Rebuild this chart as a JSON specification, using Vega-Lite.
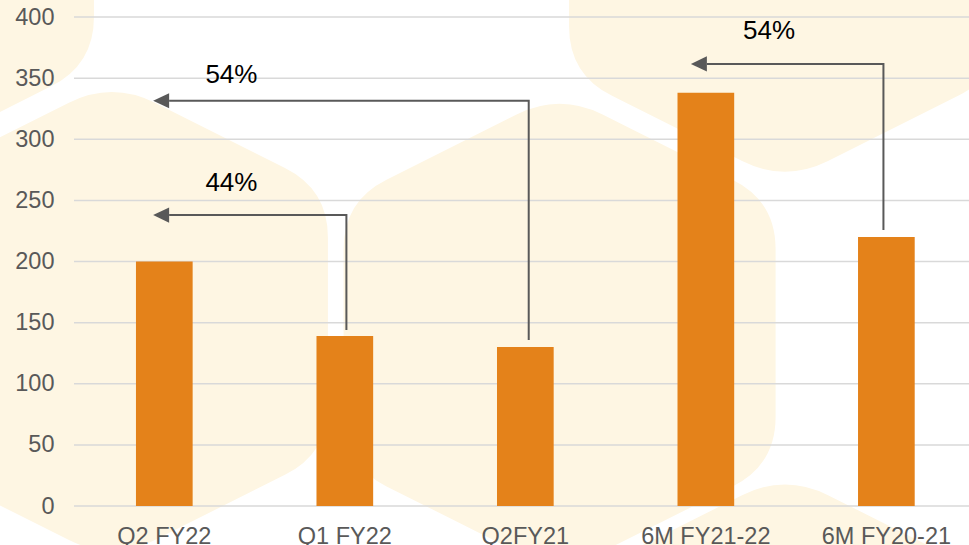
{
  "$schema": "https://vega.github.io/schema/vega-lite/v6.json",
  "width": 895,
  "height": 489,
  "autosize": {"type": "none"},
  "padding": {"left": 74, "top": 17, "right": 0, "bottom": 39},
  "background": "white",
  "config": {"view": {"stroke": null}, "font": "Liberation Sans"},
  "datasets": {
    "bars": [
      {"period": "Q2 FY22", "value": 200},
      {"period": "Q1 FY22", "value": 139},
      {"period": "Q2FY21", "value": 130},
      {"period": "6M FY21-22", "value": 338},
      {"period": "6M FY20-21", "value": 220}
    ],
    "hexes": [
      {"pos": -1.086, "value": 468.7},
      {"pos": 0.21, "value": 151},
      {"pos": 2.69, "value": 141.5},
      {"pos": 3.939, "value": 461},
      {"pos": 3.939, "value": -170}
    ],
    "grid": [
      {"value": 0}, {"value": 50}, {"value": 100}, {"value": 150}, {"value": 200},
      {"value": 250}, {"value": 300}, {"value": 350}, {"value": 400}
    ],
    "arrows": [
      {"arrow": "a", "ord": 1, "pos": 1.509, "value": 144.0},
      {"arrow": "a", "ord": 2, "pos": 1.509, "value": 238.0},
      {"arrow": "a", "ord": 3, "pos": 0.527, "value": 238.0},
      {"arrow": "b", "ord": 1, "pos": 2.519, "value": 135.8},
      {"arrow": "b", "ord": 2, "pos": 2.519, "value": 331.5},
      {"arrow": "b", "ord": 3, "pos": 0.527, "value": 331.5},
      {"arrow": "c", "ord": 1, "pos": 4.484, "value": 225.8},
      {"arrow": "c", "ord": 2, "pos": 4.484, "value": 361.6},
      {"arrow": "c", "ord": 3, "pos": 3.506, "value": 361.6}
    ],
    "labels": [
      {"text": "54%", "pos": 0.872, "value": 345.8},
      {"text": "44%", "pos": 0.872, "value": 257.9},
      {"text": "54%", "pos": 3.85, "value": 381.8}
    ]
  },
  "layer": [
    {
      "data": {"name": "hexes"},
      "mark": {
        "type": "point",
        "shape": "M0.179,-0.911L0.721,-0.639Q0.9,-0.55 0.9,-0.35L0.9,0.35Q0.9,0.55 0.721,0.639L0.179,0.911Q0,1 -0.179,0.911L-0.721,0.639Q-0.9,0.55 -0.9,0.35L-0.9,-0.35Q-0.9,-0.55 -0.721,-0.639L-0.179,-0.911Q0,-1 0.179,-0.911Z",
        "size": 230400,
        "filled": true,
        "fill": "#FEF6E3",
        "strokeWidth": 0,
        "opacity": 1
      },
      "encoding": {
        "x": {"field": "pos", "type": "quantitative", "scale": {"domain": [0, 4.958], "nice": false, "zero": false}, "axis": null},
        "y": {
          "field": "value", "type": "quantitative",
          "scale": {"domain": [0, 400], "nice": false},
          "axis": {"title": null, "values": [0, 50, 100, 150, 200, 250, 300, 350, 400], "labelFontSize": 23.5, "labelColor": "#595959", "ticks": false, "domain": false, "grid": false, "labelPadding": 20, "labelFont": "Liberation Sans", "zindex": 1}
        }
      }
    },
    {
      "data": {"name": "grid"},
      "mark": {"type": "rule", "color": "#D9D9D9", "strokeWidth": 1.5},
      "encoding": {
        "y": {"field": "value", "type": "quantitative", "scale": {"domain": [0, 400], "nice": false}}
      }
    },
    {
      "data": {"name": "bars"},
      "mark": {"type": "bar", "color": "#E4821A"},
      "encoding": {
        "x": {
          "field": "period", "type": "nominal", "sort": null,
          "scale": {"paddingInner": 0.686, "paddingOuter": 0.322, "align": 0.533},
          "axis": {"title": null, "labelAngle": 0, "labelFontSize": 23.5, "labelColor": "#595959", "ticks": false, "domain": false, "grid": false, "labelPadding": 18, "labelFont": "Liberation Sans", "zindex": 1}
        },
        "y": {
          "field": "value", "type": "quantitative",
          "scale": {"domain": [0, 400], "nice": false},
          "axis": {"title": null, "values": [0, 50, 100, 150, 200, 250, 300, 350, 400], "labelFontSize": 23.5, "labelColor": "#595959", "ticks": false, "domain": false, "grid": false, "labelPadding": 20, "labelFont": "Liberation Sans", "zindex": 1}
        }
      }
    },
    {
      "data": {"name": "arrows"},
      "mark": {"type": "line", "color": "#595959", "strokeWidth": 2, "strokeCap": "butt", "strokeJoin": "miter"},
      "encoding": {
        "x": {"field": "pos", "type": "quantitative", "scale": {"domain": [0, 4.958], "nice": false, "zero": false}, "axis": null},
        "y": {"field": "value", "type": "quantitative", "scale": {"domain": [0, 400], "nice": false}},
        "detail": {"field": "arrow"},
        "order": {"field": "ord"}
      }
    },
    {
      "data": {"name": "arrows"},
      "transform": [{"filter": "datum.ord == 3"}],
      "mark": {"type": "point", "shape": "M-1,0L1,-0.95L1,0.95Z", "size": 256, "filled": true, "color": "#595959", "opacity": 1, "xOffset": -8},
      "encoding": {
        "x": {"field": "pos", "type": "quantitative", "scale": {"domain": [0, 4.958], "nice": false, "zero": false}, "axis": null},
        "y": {"field": "value", "type": "quantitative", "scale": {"domain": [0, 400], "nice": false}}
      }
    },
    {
      "data": {"name": "labels"},
      "mark": {"type": "text", "fontSize": 26, "font": "Liberation Sans", "color": "#000000", "align": "center", "baseline": "alphabetic"},
      "encoding": {
        "x": {"field": "pos", "type": "quantitative", "scale": {"domain": [0, 4.958], "nice": false, "zero": false}, "axis": null},
        "y": {"field": "value", "type": "quantitative", "scale": {"domain": [0, 400], "nice": false}},
        "text": {"field": "text"}
      }
    }
  ],
  "resolve": {"scale": {"x": "independent"}}
}
